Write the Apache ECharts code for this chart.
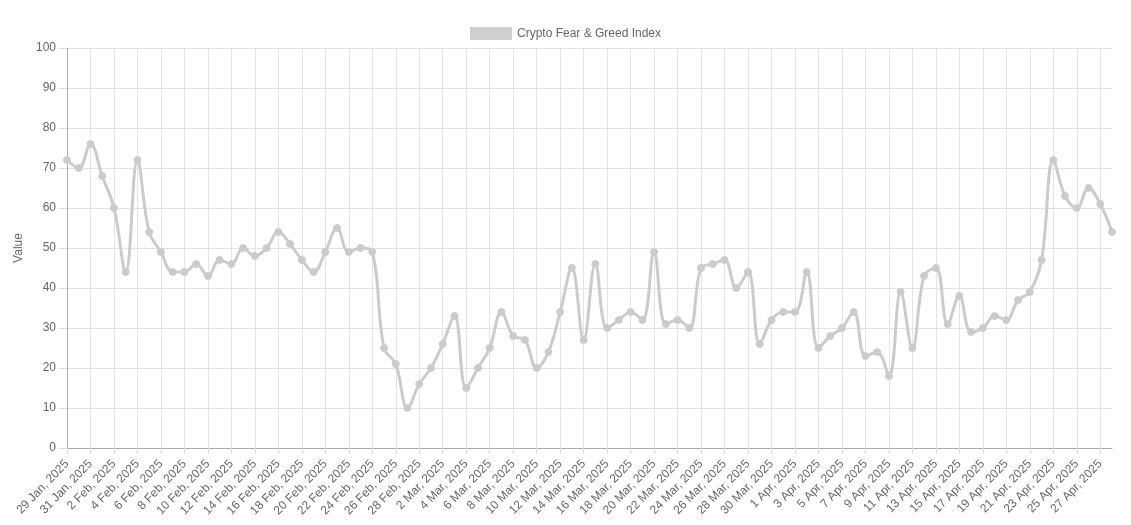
<!DOCTYPE html>
<html>
<head>
<meta charset="utf-8">
<script src="https://cdn.jsdelivr.net/npm/echarts@6/dist/echarts.min.js"></script>
<style>
html,body{margin:0;padding:0;background:#fff;}
#chart{width:1131px;height:525px;}
</style>
</head>
<body>
<div id="chart"></div>
<script>
var seriesName = "Crypto Fear & Greed Index";
var categories = [
"29 Jan, 2025","30 Jan, 2025","31 Jan, 2025",
"1 Feb, 2025","2 Feb, 2025","3 Feb, 2025","4 Feb, 2025","5 Feb, 2025","6 Feb, 2025","7 Feb, 2025","8 Feb, 2025","9 Feb, 2025","10 Feb, 2025",
"11 Feb, 2025","12 Feb, 2025","13 Feb, 2025","14 Feb, 2025","15 Feb, 2025","16 Feb, 2025","17 Feb, 2025","18 Feb, 2025","19 Feb, 2025","20 Feb, 2025",
"21 Feb, 2025","22 Feb, 2025","23 Feb, 2025","24 Feb, 2025","25 Feb, 2025","26 Feb, 2025","27 Feb, 2025","28 Feb, 2025",
"1 Mar, 2025","2 Mar, 2025","3 Mar, 2025","4 Mar, 2025","5 Mar, 2025","6 Mar, 2025","7 Mar, 2025","8 Mar, 2025","9 Mar, 2025","10 Mar, 2025",
"11 Mar, 2025","12 Mar, 2025","13 Mar, 2025","14 Mar, 2025","15 Mar, 2025","16 Mar, 2025","17 Mar, 2025","18 Mar, 2025","19 Mar, 2025","20 Mar, 2025",
"21 Mar, 2025","22 Mar, 2025","23 Mar, 2025","24 Mar, 2025","25 Mar, 2025","26 Mar, 2025","27 Mar, 2025","28 Mar, 2025","29 Mar, 2025","30 Mar, 2025","31 Mar, 2025",
"1 Apr, 2025","2 Apr, 2025","3 Apr, 2025","4 Apr, 2025","5 Apr, 2025","6 Apr, 2025","7 Apr, 2025","8 Apr, 2025","9 Apr, 2025","10 Apr, 2025",
"11 Apr, 2025","12 Apr, 2025","13 Apr, 2025","14 Apr, 2025","15 Apr, 2025","16 Apr, 2025","17 Apr, 2025","18 Apr, 2025","19 Apr, 2025","20 Apr, 2025",
"21 Apr, 2025","22 Apr, 2025","23 Apr, 2025","24 Apr, 2025","25 Apr, 2025","26 Apr, 2025","27 Apr, 2025","28 Apr, 2025"
];
var values = [
72,70,76,
68,60,44,72,54,49,44,44,46,43,
47,46,50,48,50,54,51,47,44,49,
55,49,50,49,25,21,10,16,
20,26,33,15,20,25,34,28,27,20,
24,34,45,27,46,30,32,34,32,49,
31,32,30,45,46,47,40,44,26,32,34,
34,44,25,28,30,34,23,24,18,39,
25,43,45,31,38,29,30,33,32,37,
39,47,72,63,60,65,61,54
];
var yTicks = {min:0, max:100, interval:10};
var yAxisName = "Value";

var chart = echarts.init(document.getElementById('chart'));
var fontFamily = '"Liberation Sans", Helvetica, Arial, sans-serif';
chart.setOption({
  animation:false,
  textStyle:{fontFamily:fontFamily},
  legend:{
    top:25, left:'center',
    icon:'rect', itemWidth:42, itemHeight:13, itemGap:10,
    padding:[2,5,2,5],
    textStyle:{color:'#666', fontSize:12, fontFamily:fontFamily},
    data:[{name:seriesName, itemStyle:{color:'#cfcfcf'}}]
  },
  grid:{left:67, right:19, top:48, bottom:77, containLabel:false},
  xAxis:{
    type:'category', data:categories, boundaryGap:false,
    axisLine:{show:true, lineStyle:{color:'#a8a8a8', width:1}},
    axisTick:{show:true, interval:1, length:6, lineStyle:{color:'#dcdcdc'}},
    axisLabel:{interval:1, rotate:46, color:'#666', fontSize:12, margin:14, fontFamily:fontFamily},
    splitLine:{show:true, interval:1, lineStyle:{color:'#e3e3e3', width:1}}
  },
  yAxis:{
    type:'value', min:yTicks.min, max:yTicks.max, interval:yTicks.interval,
    name:yAxisName, nameLocation:'middle', nameGap:40, nameRotate:90,
    nameTextStyle:{color:'#666', fontSize:12, fontFamily:fontFamily},
    axisLine:{show:true, lineStyle:{color:'#a8a8a8', width:1}},
    axisTick:{show:true, length:8, lineStyle:{color:'#dcdcdc'}},
    axisLabel:{color:'#666', fontSize:12, margin:11, fontFamily:fontFamily},
    splitLine:{show:true, lineStyle:{color:'#e3e3e3', width:1}}
  },
  series:[{
    name:seriesName, type:'line', data:values,
    smooth:0.4,
    symbol:'circle', symbolSize:7, showSymbol:true,
    lineStyle:{color:'#cbcbcb', width:3},
    itemStyle:{color:'#cbcbcb', borderColor:'#cbcbcb'}
  }]
});
</script>
</body>
</html>
